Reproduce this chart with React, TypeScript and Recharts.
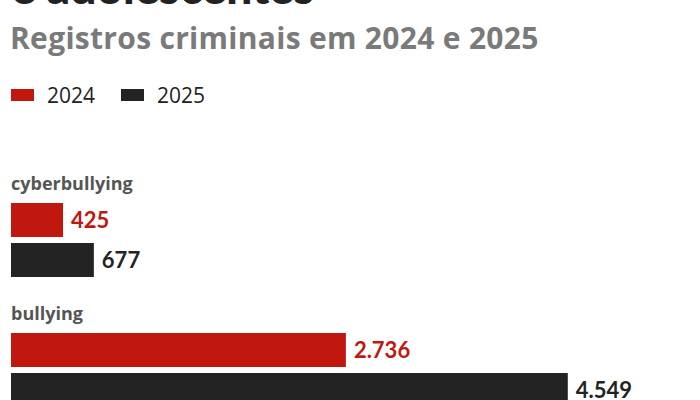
import React from "react";
import { BarChart, Bar, XAxis, YAxis, LabelList } from "recharts";

const categories = ["cyberbullying", "bullying"];
const values2024 = [425, 2736];
const values2025 = [677, 4549];
const seriesNames = ["2024", "2025"];

const titleText = "e adolescentes";
const subtitleText = "Registros criminais em 2024 e 2025";

const RED = "#c0170f";
const DARK = "#232323";
const FONT = "Lato, 'Noto Sans', sans-serif";
const FONT2 = "'Open Sans', 'Noto Sans', sans-serif";

const data = categories.map((c, i) => ({
  category: c,
  y2024: values2024[i],
  y2025: values2025[i],
}));

// 2736 -> "2.736"
const fmt = (v: number) => String(v).replace(/\B(?=(\d{3})+(?!\d))/g, ".");

const CategoryLabel = (props: any) => {
  const { x, y, value } = props;
  return (
    <text x={x} y={y - 13} fill="#555" fontSize={18} fontWeight={700} fontFamily={FONT2}>
      {value}
    </text>
  );
};

export default function App() {
  return (
    <div
      style={{
        position: "fixed",
        top: 0,
        left: 0,
        width: 700,
        height: 400,
        overflow: "hidden",
        background: "#fff",
        fontFamily: FONT,
      }}
    >
      {/* last line of the title, cropped at the top like the source */}
      <div
        style={{
          position: "absolute",
          left: 11,
          top: -37,
          fontSize: 46,
          lineHeight: "48px",
          fontWeight: 900,
          color: "#222",
          whiteSpace: "nowrap",
        }}
      >
        {titleText}
      </div>
      <div
        style={{
          position: "absolute",
          left: 10,
          top: 18,
          fontSize: 30,
          letterSpacing: 0.3,
          lineHeight: "40px",
          fontWeight: 700,
          fontFamily: FONT2,
          color: "#7a7a7a",
          whiteSpace: "nowrap",
        }}
      >
        {subtitleText}
      </div>
      <div style={{ position: "absolute", left: 11, top: 80, display: "flex", alignItems: "center" }}>
        {seriesNames.map((n, i) => (
          <div key={n} style={{ display: "flex", alignItems: "center", marginRight: 26 }}>
            <span
              style={{
                display: "inline-block",
                width: 23,
                height: 12,
                background: i === 0 ? RED : DARK,
                marginRight: 13,
              }}
            />
            <span style={{ fontSize: 21, color: "#222", lineHeight: "30px", fontFamily: FONT2 }}>{n}</span>
          </div>
        ))}
      </div>
      <div style={{ position: "absolute", left: 0, top: 0 }}>
        <BarChart
          width={700}
          height={440}
          data={data}
          layout="vertical"
          margin={{ top: 175, right: 77, bottom: 5, left: 11 }}
          barGap={6}
        >
          <XAxis type="number" domain={[0, 5000]} hide />
          <YAxis type="category" dataKey="category" hide />
          <Bar dataKey="y2024" fill={RED} barSize={34} isAnimationActive={false}>
            <LabelList dataKey="category" content={CategoryLabel} />
            <LabelList
              dataKey="y2024"
              position="right"
              offset={8}
              formatter={(v: any) => fmt(Number(v))}
              fill={RED}
              style={{ fontSize: 22, fontWeight: 700, fontFamily: FONT }}
            />
          </Bar>
          <Bar dataKey="y2025" fill={DARK} barSize={34} isAnimationActive={false}>
            <LabelList
              dataKey="y2025"
              position="right"
              offset={8}
              formatter={(v: any) => fmt(Number(v))}
              fill={DARK}
              style={{ fontSize: 22, fontWeight: 700, fontFamily: FONT }}
            />
          </Bar>
        </BarChart>
      </div>
    </div>
  );
}
